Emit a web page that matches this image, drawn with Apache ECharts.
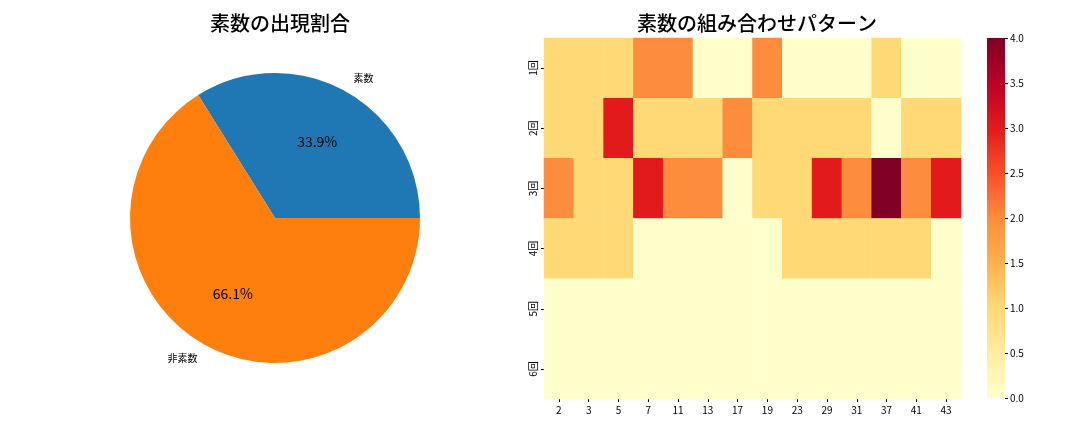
<!DOCTYPE html>
<html>
<head>
<meta charset="utf-8">
<script src="https://cdn.jsdelivr.net/npm/echarts@6/dist/echarts.min.js"></script>
<style>
  html, body { margin: 0; padding: 0; background: #fff; }
  #chart { width: 1080px; height: 432px; }
</style>
</head>
<body>
<div id="chart"></div>
<script>
// pie data
const pieNames = ['素数', '非素数']
const pieValues = [61, 119]

// heatmap data
const primes = ['2', '3', '5', '7', '11', '13', '17', '19', '23', '29', '31', '37', '41', '43']
const rounds = ['1回', '2回', '3回', '4回', '5回', '6回']
const counts = [
  [1, 1, 1, 2, 2, 0, 0, 2, 0, 0, 0, 1, 0, 0],
  [1, 1, 3, 1, 1, 1, 2, 1, 1, 1, 1, 0, 1, 1],
  [2, 1, 1, 3, 2, 2, 0, 1, 1, 3, 2, 4, 2, 3],
  [1, 1, 1, 0, 0, 0, 0, 0, 1, 1, 1, 1, 1, 0],
  [0, 0, 0, 0, 0, 0, 0, 0, 0, 0, 0, 0, 0, 0],
  [0, 0, 0, 0, 0, 0, 0, 0, 0, 0, 0, 0, 0, 0]
]
const scaleMin = 0
const scaleMax = 4
const barTicks = [0, 0.5, 1, 1.5, 2, 2.5, 3, 3.5, 4]

const ylorrd = ['#ffffcc', '#ffeda0', '#fed976', '#feb24c', '#fd8d3c',
                '#fc4e2a', '#e31a1c', '#bd0026', '#800026']
const font = '"Noto Sans CJK JP", "DejaVu Sans", sans-serif'

const heatData = []
counts.forEach((row, r) => row.forEach((v, c) => heatData.push([c, r, v])))

const total = pieValues.reduce((a, b) => a + b, 0)
const R = 145
const center = [275, 218]
// shift name labels so 素数 starts at the anchor and 非素数 ends at it
const namePad = [[0, 0, 0, 22], [0, 30, 0, 0]]

// colorbar gradient, top = max
const barGradient = new echarts.graphic.LinearGradient(0, 0, 0, 1,
  ylorrd.slice().reverse().map((c, i) => ({ offset: i / (ylorrd.length - 1), color: c })))

const chart = echarts.init(document.getElementById('chart'))
chart.setOption({
  animation: false,
  textStyle: { fontFamily: font },
  title: [
    { text: '素数の出現割合', left: 275, top: 8, textAlign: 'center',
      textStyle: { fontSize: 20, fontWeight: 500, color: '#000', fontFamily: font } },
    { text: '素数の組み合わせパターン', left: 752, top: 8, textAlign: 'center',
      textStyle: { fontSize: 20, fontWeight: 500, color: '#000', fontFamily: font } }
  ],
  grid: [
    { left: 544, width: 417, top: 38, height: 361 },
    { left: 987, width: 18, top: 38, height: 360 }
  ],
  xAxis: [
    { type: 'category', data: primes, gridIndex: 0, position: 'bottom',
      axisLine: { show: false },
      axisTick: { show: true, alignWithLabel: true, length: 3, lineStyle: { color: '#000' } },
      axisLabel: { fontSize: 10, color: '#000', margin: 6 },
      splitArea: { show: false } },
    { type: 'category', data: ['bar'], gridIndex: 1, show: false }
  ],
  yAxis: [
    { type: 'category', data: rounds, gridIndex: 0, inverse: true,
      axisLine: { show: false },
      axisTick: { show: true, alignWithLabel: true, length: 3, lineStyle: { color: '#000' } },
      axisLabel: { fontSize: 10, color: '#000', rotate: 90, margin: 6 } },
    { type: 'value', gridIndex: 1, position: 'right', min: scaleMin, max: scaleMax, interval: 0.5,
      axisLine: { show: false },
      axisTick: { show: true, length: 3, lineStyle: { color: '#000' } },
      axisLabel: { fontSize: 10, color: '#000', margin: 5,
                   formatter: v => barTicks.includes(v) ? v.toFixed(1) : '' },
      splitLine: { show: false } }
  ],
  visualMap: {
    type: 'continuous', min: scaleMin, max: scaleMax, seriesIndex: 0, show: false,
    inRange: { color: ylorrd }
  },
  series: [
    {
      type: 'heatmap', xAxisIndex: 0, yAxisIndex: 0, data: heatData,
      itemStyle: { borderWidth: 0 }, emphasis: { disabled: true }
    },
    {
      // colorbar
      type: 'bar', xAxisIndex: 1, yAxisIndex: 1, data: [scaleMax],
      barWidth: '100%', silent: true,
      itemStyle: { color: barGradient }
    },
    {
      type: 'pie', center: center, radius: [0, R], startAngle: 0, clockwise: false,
      silent: true,
      data: pieNames.map((n, i) => ({ name: n, value: pieValues[i] })),
      color: ['#1f77b4', '#ff7f0e'],
      label: { show: false }, labelLine: { show: false }
    },
    {
      // percentage labels at 0.6 radius
      type: 'pie', center: center, radius: [0, 168], startAngle: 0, clockwise: false,
      silent: true, z: 3,
      data: pieNames.map((n, i) => ({ name: n, value: pieValues[i] })),
      itemStyle: { color: 'transparent' },
      label: { show: true, position: 'inside', fontSize: 14, color: '#000',
               formatter: p => (p.value / total * 100).toFixed(1) + '%' },
      labelLine: { show: false }
    },
    {
      // name labels at 1.1 radius
      type: 'pie', center: center, radius: [0, 314], startAngle: 0, clockwise: false,
      silent: true, z: 3,
      data: pieNames.map((n, i) => ({
        name: n, value: pieValues[i],
        label: { padding: namePad[i] }
      })),
      itemStyle: { color: 'transparent' },
      label: { show: true, position: 'inside', fontSize: 10, color: '#000',
               formatter: '{b}' },
      labelLine: { show: false }
    }
  ]
})
</script>
</body>
</html>
